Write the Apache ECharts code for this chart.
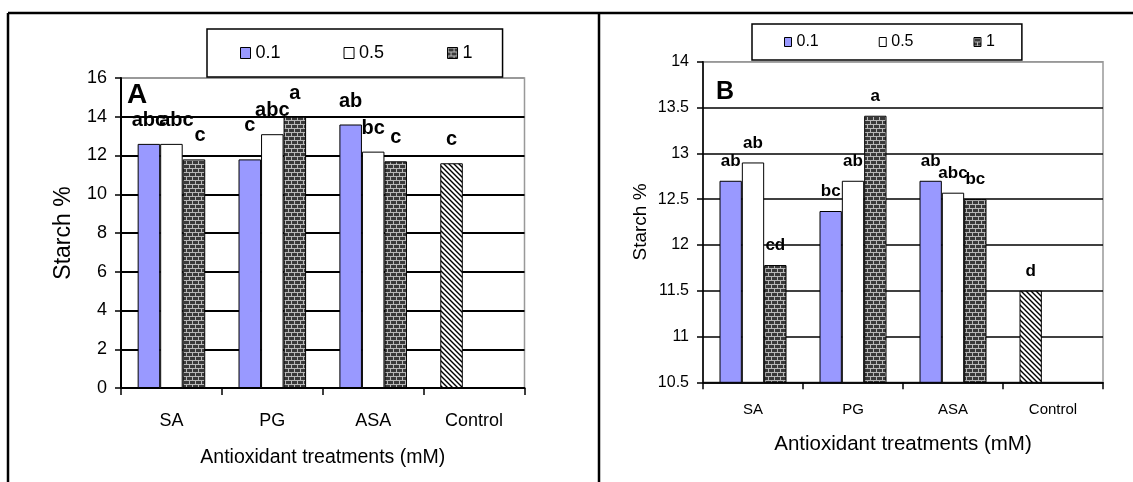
<!DOCTYPE html>
<html><head><meta charset="utf-8">
<script src="https://cdn.jsdelivr.net/npm/echarts@6/dist/echarts.min.js"></script>
<style>html,body{margin:0;padding:0;background:#fff}#c{width:1133px;height:482px}</style>
</head><body><div id="c"></div>
<script>
// ---- data ----
const categories = ['SA', 'PG', 'ASA', 'Control'];
const seriesNames = ['0.1', '0.5', '1'];
// Panel A
const valuesA01 = [12.6, 11.8, 13.6, 11.6];
const valuesA05 = [12.6, 13.1, 12.2, '-'];
const valuesA1  = [11.8, 14.0, 11.7, '-'];
const lettersA01 = ['abc', 'c', 'ab', 'c'];
const lettersA05 = ['abc', 'abc', 'bc', ''];
const lettersA1  = ['c', 'a', 'c', ''];
// Panel B
const valuesB01 = [12.7, 12.37, 12.7, 11.5];
const valuesB05 = [12.9, 12.7, 12.57, '-'];
const valuesB1  = [11.78, 13.41, 12.5, '-'];
const lettersB01 = ['ab', 'bc', 'ab', 'd'];
const lettersB05 = ['ab', 'ab', 'abc', ''];
const lettersB1  = ['cd', 'a', 'bc', ''];
const axisTitle = 'Antioxidant treatments (mM)';
const yTitle = 'Starch %';

// ---- patterns ----
function brick() {
  const c = document.createElement('canvas'); c.width = 6; c.height = 8;
  const g = c.getContext('2d');
  g.fillStyle = '#b8b8b8'; g.fillRect(0, 0, 6, 8);
  g.fillStyle = '#3a3a3a';
  g.fillRect(1, 1, 5, 3);
  g.fillRect(0, 5, 3, 3); g.fillRect(4, 5, 2, 3);
  return c;
}
function hatch() {
  const c = document.createElement('canvas'); c.width = 5; c.height = 5;
  const g = c.getContext('2d');
  g.fillStyle = '#fff'; g.fillRect(0, 0, 5, 5);
  g.strokeStyle = '#000'; g.lineWidth = 1.4;
  g.beginPath();
  g.moveTo(-1, -1); g.lineTo(6, 6);
  g.moveTo(-1, 4); g.lineTo(1, 6);
  g.moveTo(4, -1); g.lineTo(6, 1);
  g.stroke();
  return c;
}
const brickColor = { image: brick(), repeat: 'repeat' };
const hatchColor = { image: hatch(), repeat: 'repeat' };
const colors = ['#9999FF', '#FFFFFF', brickColor];

const FONT = "'Liberation Sans', Arial, sans-serif";

function makeSeries(vals, letters, si, gi, lab, shifts) {
  return {
    type: 'bar', name: seriesNames[si], xAxisIndex: gi, yAxisIndex: gi,
    barGap: '0%', barCategoryGap: '33%',
    data: vals.map((v, i) => {
      const item = { value: v };
      if (categories[i] === 'Control' && si === 0) item.itemStyle = { color: hatchColor };
      const k = si + ':' + i;
      if (shifts && shifts[k]) item.label = { offset: shifts[k] };
      return item;
    }),
    itemStyle: { color: colors[si], borderColor: '#000', borderWidth: 1 },
    label: {
      show: true, position: 'top', distance: lab.distance,
      formatter: p => letters[p.dataIndex],
      fontSize: lab.fontSize, fontWeight: 'bold', fontFamily: FONT, color: '#000'
    },
    z: 3
  };
}
const shiftsA = { '1:0': [5, 0], '2:0': [6, 0], '0:1': [0, -10] };
const labA = { distance: 13.5, fontSize: 20 };
const labB = { distance: 11, fontSize: 17 };

function axes(gi, o) {
  return {
    x: {
      gridIndex: gi, type: 'category', data: categories,
      axisLine: { lineStyle: { color: '#000', width: o.lineW } },
      axisTick: { show: true, length: 7, lineStyle: { color: '#000', width: 1.5 } },
      axisLabel: { margin: o.xMargin, fontSize: o.xFont, fontFamily: FONT, color: '#000' },
      splitLine: { show: false },
      name: axisTitle, nameLocation: 'middle', nameGap: o.xNameGap,
      nameTextStyle: { fontSize: o.xNameFont, fontFamily: FONT, color: '#000' }
    },
    y: {
      gridIndex: gi, type: 'value', min: o.min, max: o.max, interval: o.interval,
      axisLine: { show: true, lineStyle: { color: '#000', width: o.lineW } },
      axisTick: { show: true, length: 6, lineStyle: { color: '#000', width: 1.5 } },
      axisLabel: { margin: 14, fontSize: o.yFont, fontFamily: FONT, color: '#000' },
      splitLine: { show: true, lineStyle: { color: o.splitColors, width: o.lineW } },
      name: yTitle, nameLocation: 'middle', nameGap: o.yNameGap,
      nameTextStyle: { fontSize: o.yNameFont, fontFamily: FONT, color: '#000' }
    }
  };
}
const axA = axes(0, { min: 0, max: 16, interval: 2, lineW: 2, xMargin: 24, xFont: 18, xNameGap: 60, xNameFont: 19.5, yFont: 18, yNameGap: 46, yNameFont: 23,
  splitColors: ['#000', '#000', '#000', '#000', '#000', '#000', '#000', '#000', '#999'] });
const axB = axes(1, { min: 10.5, max: 14, interval: 0.5, lineW: 1.6, xMargin: 20, xFont: 15, xNameGap: 52, xNameFont: 20.5, yFont: 16, yNameGap: 53, yNameFont: 19,
  splitColors: ['#000', '#000', '#000', '#000', '#000', '#000', '#000', '#999'] });

const chart = echarts.init(document.getElementById('c'), null, { renderer: 'canvas' });
chart.setOption({
  backgroundColor: '#fff',
  animation: false,
  grid: [
    { left: 121, top: 78, width: 403.5, height: 310, show: true, borderColor: '#999', borderWidth: 1.5, backgroundColor: 'transparent', outerBoundsMode: 'none' },
    { left: 703, top: 61.7, width: 400, height: 320.6, show: true, borderColor: '#999', borderWidth: 1.5, backgroundColor: 'transparent', outerBoundsMode: 'none' }
  ],
  xAxis: [axA.x, axB.x],
  yAxis: [axA.y, axB.y],
  legend: [
    { left: 207, top: 29, icon: 'rect', itemWidth: 10, itemHeight: 11, itemGap: 63, padding: [15, 30, 15, 33],
      borderColor: '#000', borderWidth: 1.5, borderRadius: 0, backgroundColor: '#fff', data: seriesNames, selectedMode: false,
      textStyle: { fontFamily: FONT, fontSize: 18, color: '#000' }, itemStyle: { borderColor: '#000', borderWidth: 1 } },
    { left: 752, top: 24, icon: 'rect', itemWidth: 7, itemHeight: 9, itemGap: 60, padding: [10, 27, 10, 32],
      borderColor: '#000', borderWidth: 1.5, borderRadius: 0, backgroundColor: '#fff', data: seriesNames, selectedMode: false,
      textStyle: { fontFamily: FONT, fontSize: 16, color: '#000' }, itemStyle: { borderColor: '#000', borderWidth: 1 } }
  ],
  title: [
    { text: 'A', left: 127, top: 81, padding: 0, textStyle: { fontSize: 28, fontWeight: 'bold', fontFamily: FONT, color: '#000' } },
    { text: 'B', left: 716, top: 80, padding: 0, textStyle: { fontSize: 25, fontWeight: 'bold', fontFamily: FONT, color: '#000' } }
  ],
  graphic: [
    { type: 'line', shape: { x1: 8, y1: 13, x2: 1133, y2: 13 }, style: { stroke: '#000', lineWidth: 2.5 } },
    { type: 'line', shape: { x1: 8, y1: 13, x2: 8, y2: 482 }, style: { stroke: '#000', lineWidth: 2.5 } },
    { type: 'line', shape: { x1: 599, y1: 13, x2: 599, y2: 482 }, style: { stroke: '#000', lineWidth: 2.5 } }
  ],
  series: [
    makeSeries(valuesA01, lettersA01, 0, 0, labA, shiftsA),
    makeSeries(valuesA05, lettersA05, 1, 0, labA, shiftsA),
    makeSeries(valuesA1, lettersA1, 2, 0, labA, shiftsA),
    makeSeries(valuesB01, lettersB01, 0, 1, labB, null),
    makeSeries(valuesB05, lettersB05, 1, 1, labB, null),
    makeSeries(valuesB1, lettersB1, 2, 1, labB, null)
  ]
});
</script></body></html>
